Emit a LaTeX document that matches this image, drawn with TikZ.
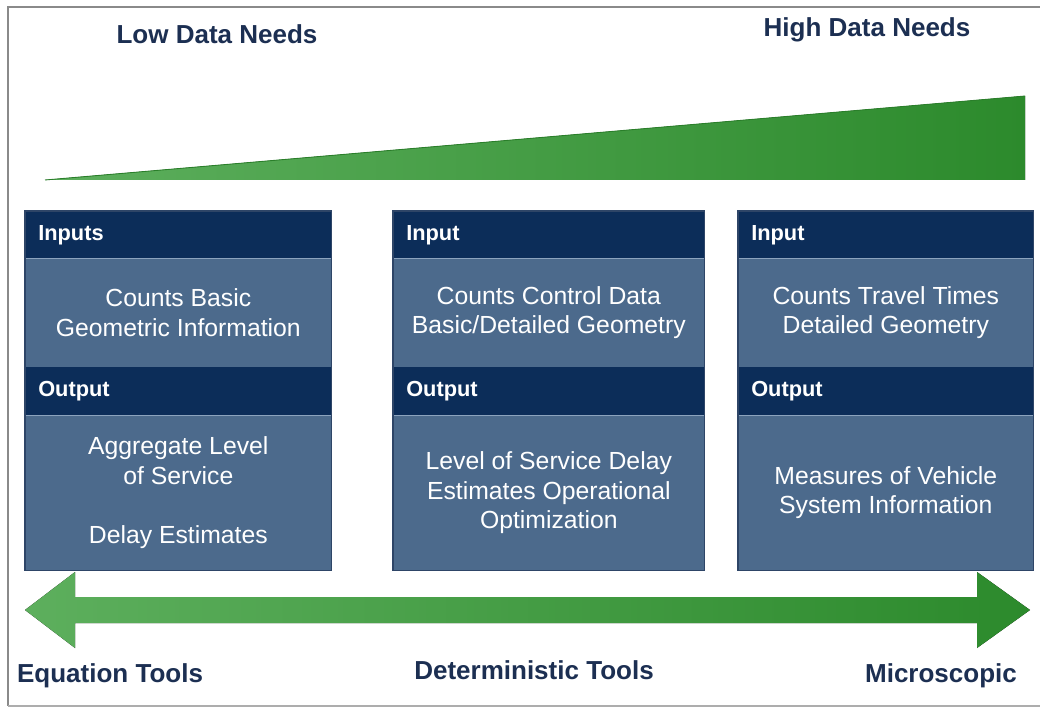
\documentclass[tikz,border=0pt]{standalone}
\usepackage{fontspec}
\setmainfont{Liberation Sans}
\usetikzlibrary{calc}

\definecolor{hdrnavy}{HTML}{0C2D59}
\definecolor{bodyslate}{HTML}{4C6A8C}
\definecolor{boxedge}{HTML}{2E4567}
\definecolor{seam}{HTML}{8CA3BE}
\definecolor{titlenavy}{HTML}{1C2F52}
\definecolor{greenlight}{HTML}{5DAF5D}
\definecolor{greendark}{HTML}{2C8A2C}
\definecolor{greenedge}{HTML}{2A7F2A}
\definecolor{framegray}{HTML}{8A8A8A}

\begin{document}
\begin{tikzpicture}[x=0.025cm,y=-0.025cm,
  hdrbox/.style={fill=hdrnavy, anchor=north west, inner xsep=0.325cm, inner ysep=0pt,
    align=left, text=white, font=\fontsize{15.5pt}{18pt}\selectfont\bfseries},
  bodybox/.style={fill=bodyslate, anchor=north west, inner sep=0pt, align=center,
    text=white, font=\fontsize{17.6pt}{21pt}\selectfont},
  seamline/.style={seam, line width=0.8pt},
  outline/.style={boxedge, line width=0.8pt},
  title/.style={anchor=base, text=titlenavy, inner sep=0pt,
    font=\fontsize{18.5pt}{22pt}\selectfont\bfseries},
  greenfill/.style={left color=greenlight, right color=greendark},
]
\useasboundingbox (0,0) rectangle (1040,709);
\fill[white] (0,0) rectangle (1040,709);

% outer frame
\draw[framegray, line width=1.6pt] (1040,7) -- (8,7) -- (8,706);
\draw[framegray!70, line width=1.2pt] (8,706) -- (1040,706);

% headings
\node[title] (low) at (217,44) {Low Data Needs};
\node[title] (high) at (867,37) {High Data Needs};

% rising wedge for data needs
\fill[greenfill] (45,180) -- (1025,96) -- (1025,180) -- cycle;
\draw[greenedge, line width=0.6pt] (45,180) -- (1025,96);

% column 1
\node[hdrbox, text width=7.0cm, minimum height=1.175cm] (in1) at (25,211) {Inputs};
\node[bodybox, minimum width=7.65cm, minimum height=2.725cm] (ib1) at (25,258)
  {Counts Basic\\Geometric Information};
\node[hdrbox, text width=7.0cm, minimum height=1.2cm] (oh1) at (25,367) {Output};
\node[bodybox, minimum width=7.65cm, minimum height=3.875cm] (ob1) at (25,415)
  {Aggregate Level\\of Service\\[21pt]Delay Estimates};
\draw[seamline] (in1.south west) -- (in1.south east);
\draw[seamline] (oh1.south west) -- (oh1.south east);
\draw[outline] (in1.north west) rectangle (ob1.south east);

% column 2
\node[hdrbox, text width=7.125cm, minimum height=1.175cm] (in2) at (393,211) {Input};
\node[bodybox, minimum width=7.775cm, minimum height=2.725cm] (ib2) at (393,258)
  {Counts Control Data\\Basic/Detailed Geometry};
\node[hdrbox, text width=7.125cm, minimum height=1.2cm] (oh2) at (393,367) {Output};
\node[bodybox, minimum width=7.775cm, minimum height=3.875cm] (ob2) at (393,415)
  {Level of Service Delay\\Estimates Operational\\Optimization};
\draw[seamline] (in2.south west) -- (in2.south east);
\draw[seamline] (oh2.south west) -- (oh2.south east);
\draw[outline] (in2.north west) rectangle (ob2.south east);

% column 3
\node[hdrbox, text width=6.725cm, minimum height=1.175cm] (in3) at (738,211) {Input};
\node[bodybox, minimum width=7.375cm, minimum height=2.725cm] (ib3) at (738,258)
  {Counts Travel Times\\Detailed Geometry};
\node[hdrbox, text width=6.725cm, minimum height=1.2cm] (oh3) at (738,367) {Output};
\node[bodybox, minimum width=7.375cm, minimum height=3.875cm] (ob3) at (738,415)
  {Measures of Vehicle\\System Information};
\draw[seamline] (in3.south west) -- (in3.south east);
\draw[seamline] (oh3.south west) -- (oh3.south east);
\draw[outline] (in3.north west) rectangle (ob3.south east);

% double-headed tool spectrum arrow
\fill[greenfill] (25,610) -- (75,572) -- (75,597) -- (977,597) -- (977,572) -- (1030,610)
  -- (977,648) -- (977,623) -- (75,623) -- (75,648) -- cycle;

% tool labels
\node[title] (eqn) at (110,682) {Equation Tools};
\node[title] (det) at (534,679) {Deterministic Tools};
\node[title] (micro) at (941,682) {Microscopic};
\end{tikzpicture}
\end{document}
